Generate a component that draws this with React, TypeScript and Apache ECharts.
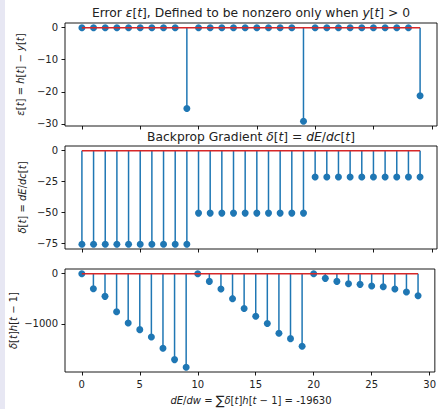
import React, { useEffect, useRef } from "react";
import * as echarts from "echarts";

const steps: number[] = Array.from({ length: 30 }, (_, i) => i);

const errorValues: number[] = [
  0, 0, 0, 0, 0, 0, 0, 0, 0, -25.2,
  0, 0, 0, 0, 0, 0, 0, 0, 0, -29.2,
  0, 0, 0, 0, 0, 0, 0, 0, 0, -21.2,
];

const gradientValues: number[] = [
  -75.6, -75.6, -75.6, -75.6, -75.6, -75.6, -75.6, -75.6, -75.6, -75.6,
  -50.4, -50.4, -50.4, -50.4, -50.4, -50.4, -50.4, -50.4, -50.4, -50.4,
  -21.2, -21.2, -21.2, -21.2, -21.2, -21.2, -21.2, -21.2, -21.2, -21.2,
];

const productValues: number[] = [
  0, -300, -452, -758, -985, -1116, -1262, -1488, -1713, -1867,
  0, -154, -306, -498, -694, -847, -995, -1189, -1295, -1448,
  0, -93, -154, -199, -213, -246, -259, -306, -366, -439,
];

const xTicks: number[] = [0, 5, 10, 15, 20, 25, 30];
const yTicks1: number[] = [-30, -20, -10, 0];
const yTicks2: number[] = [-75, -50, -25, 0];
const yTicks3: number[] = [-1000, 0];

const FONT = "DejaVu Sans";
const BLUE = "#1f77b4";
const RED = "#d62728";
const INK = "#222";

const GRID_LEFT = 65;
const GRID_WIDTH = 372;
const GRID_TOPS = [23, 146, 269];
const GRID_H = 103;

function paddedRange(vals: number[]) {
  const lo = Math.min(0, ...vals);
  const hi = Math.max(0, ...vals);
  const m = (hi - lo) * 0.05;
  return [lo - m, hi + m];
}

export default function App() {
  const ref = useRef<HTMLDivElement>(null);

  useEffect(() => {
    if (!ref.current) return;
    const chart = echarts.init(ref.current, undefined, { renderer: "svg" });

    const panels = [errorValues, gradientValues, productValues];
    const yTicks = [yTicks1, yTicks2, yTicks3];

    const minusFmt = (v: number) => String(v).replace("-", "\u2212");

    const grids = GRID_TOPS.map((top) => ({
      left: GRID_LEFT,
      top,
      width: GRID_WIDTH,
      height: GRID_H,
      show: true,
      borderColor: "#000",
      borderWidth: 0.9,
      backgroundColor: "transparent",
      containLabel: false,
    }));

    const xAxes = GRID_TOPS.map((_, i) => ({
      type: "value",
      gridIndex: i,
      position: "bottom",
      min: -1.45,
      max: 30.45,
      splitLine: { show: false },
      axisLine: { show: false, onZero: false },
      axisTick: {
        show: true,
        customValues: xTicks,
        length: 3.5,
        lineStyle: { color: "#000", width: 0.9 },
      },
      axisLabel: {
        show: i === 2,
        customValues: xTicks,
        margin: 7,
        fontFamily: FONT,
        fontSize: 10,
        color: INK,
        formatter: minusFmt,
      },
    }));

    const yAxes = panels.map((vals, i) => {
      const [lo, hi] = paddedRange(vals);
      return {
        type: "value",
        gridIndex: i,
        position: "left",
        min: lo,
        max: hi,
        splitLine: { show: false },
        axisLine: { show: false, onZero: false },
        axisTick: {
          show: true,
          customValues: yTicks[i],
          length: 3.5,
          lineStyle: { color: "#000", width: 0.9 },
        },
        axisLabel: {
          customValues: yTicks[i],
          margin: 7,
          fontFamily: FONT,
          fontSize: 10,
          color: INK,
          formatter: minusFmt,
        },
      };
    });

    const series: any[] = [];
    panels.forEach((vals, i) => {
      const data = steps.map((t, k) => [t, vals[k]]);
      series.push({
        type: "scatter",
        xAxisIndex: i,
        yAxisIndex: i,
        data,
        symbol: "circle",
        symbolSize: 7,
        itemStyle: { color: BLUE, opacity: 1 },
        z: 2,
      });
      series.push({
        type: "custom",
        xAxisIndex: i,
        yAxisIndex: i,
        data,
        encode: { x: 0, y: 1 },
        z: 3,
        renderItem: (_params: any, api: any) => {
          const x = api.value(0);
          const y = api.value(1);
          const p0 = api.coord([x, 0]);
          const p1 = api.coord([x, y]);
          return {
            type: "line",
            shape: { x1: p0[0], y1: p0[1], x2: p1[0], y2: p1[1] },
            style: { stroke: BLUE, lineWidth: 1.5 },
          };
        },
      });
      series.push({
        type: "line",
        xAxisIndex: i,
        yAxisIndex: i,
        data: [
          [steps[0], 0],
          [steps[steps.length - 1], 0],
        ],
        showSymbol: false,
        symbol: "none",
        lineStyle: { color: RED, width: 1.5 },
        z: 4,
      });
    });

    const italic = { fontStyle: "italic", fontFamily: FONT, fontSize: 12.3, fill: INK };
    const italicS = { fontStyle: "italic", fontFamily: FONT, fontSize: 10, fill: INK };
    const cx = GRID_LEFT + GRID_WIDTH / 2;

    const titleStyle = (text: string, size: number, rich: any) => ({
      text,
      rich,
      fontFamily: FONT,
      fontSize: size,
      fill: INK,
      align: "center",
      verticalAlign: "middle",
    });

    const graphic: any[] = [
      {
        type: "rect",
        shape: { x: 0, y: 0, width: 5, height: 409 },
        style: { fill: "#e7e7f3" },
        z: -10,
      },
      {
        type: "text",
        x: cx,
        y: 13,
        style: titleStyle(
          "Error {i|ε}[{i|t}], Defined to be nonzero only when {i|y}[{i|t}] > 0",
          12.3,
          { i: italic }
        ),
      },
      {
        type: "text",
        x: cx,
        y: 137,
        style: titleStyle(
          "Backprop Gradient {i|δ}[{i|t}] = {i|dE}/{i|dc}[{i|t}]",
          12.3,
          { i: italic }
        ),
      },
      {
        type: "text",
        x: cx,
        y: 400,
        style: titleStyle(
          "{i|dE}/{i|dw} = {s|∑}{i|δ}[{i|t}]{i|h}[{i|t} − 1] = -19630",
          10,
          { i: italicS, s: { fontFamily: FONT, fontSize: 13, fill: INK } }
        ),
      },
      {
        type: "text",
        x: 20,
        y: GRID_TOPS[0] + GRID_H / 2,
        rotation: Math.PI / 2,
        style: titleStyle("{i|ε}[{i|t}] = {i|h}[{i|t}] − {i|y}[{i|t}]", 10, { i: italicS }),
      },
      {
        type: "text",
        x: 22,
        y: GRID_TOPS[1] + GRID_H / 2,
        rotation: Math.PI / 2,
        style: titleStyle("{i|δ}[{i|t}] = {i|dE}/{i|dc}[{i|t}]", 10, { i: italicS }),
      },
      {
        type: "text",
        x: 13,
        y: GRID_TOPS[2] + GRID_H / 2,
        rotation: Math.PI / 2,
        style: titleStyle("{i|δ}[{i|t}]{i|h}[{i|t} − 1]", 10, { i: italicS }),
      },
    ];

    chart.setOption({
      animation: false,
      backgroundColor: "#ffffff",
      grid: grids,
      xAxis: xAxes,
      yAxis: yAxes,
      series,
      graphic,
    });

    return () => chart.dispose();
  }, []);

  return (
    <div
      ref={ref}
      style={{ position: "fixed", left: 0, top: 0, width: 439, height: 409 }}
    />
  );
}
